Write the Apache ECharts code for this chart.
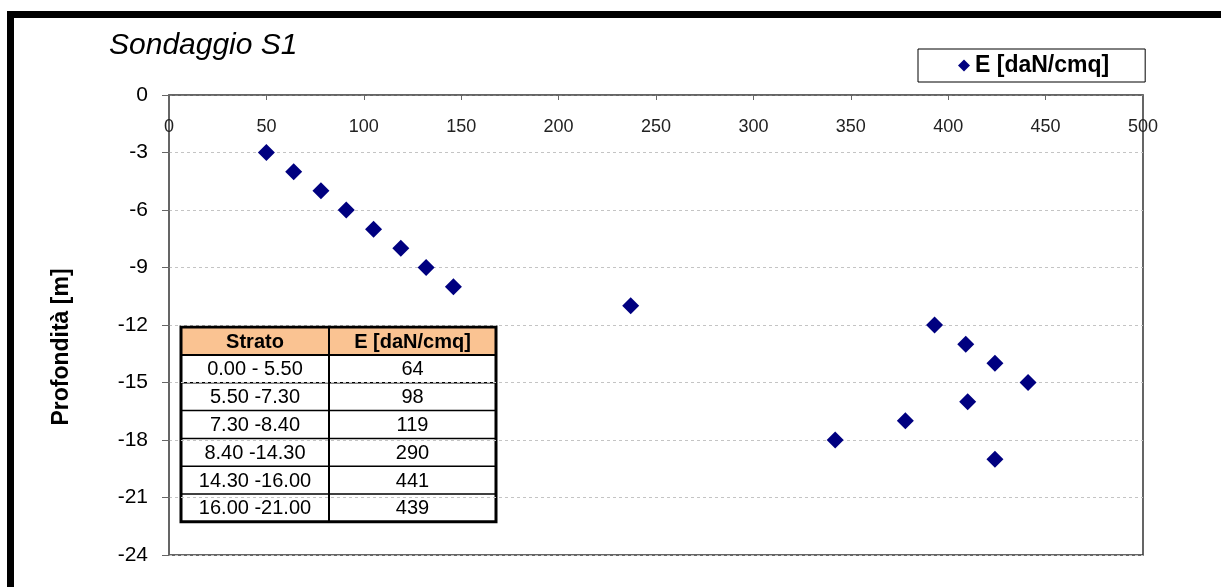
<!DOCTYPE html>
<html>
<head>
<meta charset="utf-8">
<script src="https://cdn.jsdelivr.net/npm/echarts@6/dist/echarts.min.js"></script>
<style>
html,body{margin:0;padding:0;background:#fff;}
#chart{width:1221px;height:587px;}
</style>
</head>
<body>
<div id="chart"></div>
<script>
// ---- data ----
const seriesName = 'E [daN/cmq]';
const depths = [-3, -4, -5, -6, -7, -8, -9, -10, -11, -12, -13, -14, -15, -16, -17, -18, -19];
const moduli = [50, 64, 78, 91, 105, 119, 132, 146, 237, 393, 409, 424, 441, 410, 378, 342, 424];
const xTicks = [0, 50, 100, 150, 200, 250, 300, 350, 400, 450, 500];
const yTicks = [0, -3, -6, -9, -12, -15, -18, -21, -24];
const tableHeader = ['Strato', 'E [daN/cmq]'];
const strati = ['0.00 - 5.50', '5.50 -7.30', '7.30 -8.40', '8.40 -14.30', '14.30 -16.00', '16.00 -21.00'];
const eStrato = [64, 98, 119, 290, 441, 439];

const font = '"Liberation Sans", Arial, sans-serif';
const chart = echarts.init(document.getElementById('chart'), null, {renderer: 'canvas'});

// table graphic built from arrays
const tX = 181, tY = 327, c1 = 148, c2 = 167, hH = 28, rH = 27.8;
const tableEls = [];
tableEls.push({type: 'rect', shape: {x: tX, y: tY, width: c1 + c2, height: hH}, style: {fill: '#FAC392'}});
tableEls.push({type: 'rect', shape: {x: tX, y: tY + hH, width: c1 + c2, height: rH * strati.length}, style: {fill: '#fff'}});
tableHeader.forEach((h, i) => {
  tableEls.push({type: 'text', style: {text: h, x: tX + (i === 0 ? c1 / 2 : c1 + c2 / 2), y: tY + hH / 2 + 1, align: 'center', verticalAlign: 'middle', font: 'bold 20px ' + font, fill: '#000'}});
});
strati.forEach((s, r) => {
  const cy = tY + hH + rH * r + rH / 2 + 1;
  tableEls.push({type: 'text', style: {text: s, x: tX + c1 / 2, y: cy, align: 'center', verticalAlign: 'middle', font: '20px ' + font, fill: '#000'}});
  tableEls.push({type: 'text', style: {text: String(eStrato[r]), x: tX + c1 + c2 / 2, y: cy, align: 'center', verticalAlign: 'middle', font: '20px ' + font, fill: '#000'}});
  if (r > 0) {
    tableEls.push({type: 'line', shape: {x1: tX, y1: tY + hH + rH * r, x2: tX + c1 + c2, y2: tY + hH + rH * r}, style: {stroke: '#000', lineWidth: 1.5}});
  }
});
tableEls.push({type: 'line', shape: {x1: tX, y1: tY + hH, x2: tX + c1 + c2, y2: tY + hH}, style: {stroke: '#000', lineWidth: 2}});
tableEls.push({type: 'line', shape: {x1: tX + c1, y1: tY, x2: tX + c1, y2: tY + hH + rH * strati.length}, style: {stroke: '#000', lineWidth: 2}});
tableEls.push({type: 'rect', shape: {x: tX, y: tY, width: c1 + c2, height: hH + rH * strati.length}, style: {fill: 'none', stroke: '#000', lineWidth: 3}});

const option = {
  animation: false,
  backgroundColor: '#fff',
  title: {
    text: 'Sondaggio S1',
    left: 104, top: 26,
    textStyle: {fontFamily: font, fontStyle: 'italic', fontWeight: 'normal', fontSize: 30, color: '#000'}
  },
  legend: {
    data: [{name: seriesName, icon: 'diamond'}],
    left: 918, top: 49,
    padding: [5, 36, 5, 40],
    itemWidth: 12, itemHeight: 12, itemGap: 5,
    borderColor: '#000', borderWidth: 1,
    textStyle: {fontFamily: font, fontWeight: 'bold', fontSize: 23, color: '#000'}
  },
  grid: {
    left: 169, top: 95, right: 78, bottom: 32,
    show: true, borderColor: '#333', borderWidth: 1.5, backgroundColor: '#fff'
  },
  xAxis: {
    type: 'value', position: 'top', min: 0, max: 500, interval: 50,
    axisLine: {show: true, onZero: false, lineStyle: {color: '#666', width: 1.5}},
    axisTick: {show: true, inside: true, length: 5, lineStyle: {color: '#666'}},
    axisLabel: {inside: true, margin: 23, fontFamily: font, fontSize: 18, color: '#222', showMinLabel: true, showMaxLabel: true,
      formatter: v => xTicks.includes(v) ? String(v) : ''},
    splitLine: {show: false}
  },
  yAxis: {
    type: 'value', min: -24, max: 0, interval: 3,
    name: 'Profondità [m]', nameLocation: 'middle', nameGap: 96, nameRotate: 90,
    nameTextStyle: {fontFamily: font, fontWeight: 'bold', fontSize: 23, color: '#000', padding: [0, 44, 0, 0]},
    axisLine: {show: true, onZero: false, lineStyle: {color: '#666', width: 1.5}},
    axisTick: {show: true, length: 7, lineStyle: {color: '#666'}},
    axisLabel: {margin: 21, fontFamily: font, fontSize: 21, color: '#000', showMinLabel: true, showMaxLabel: true,
      formatter: v => yTicks.includes(v) ? String(v) : ''},
    splitLine: {show: true, lineStyle: {color: '#C4C4C4', type: [3, 3], width: 1}}
  },
  series: [{
    name: seriesName, type: 'scatter', symbol: 'diamond', symbolSize: 17,
    itemStyle: {color: '#000080', opacity: 1},
    data: moduli.map((m, i) => [m, depths[i]])
  }],
  graphic: [
    {type: 'rect', z: 100, shape: {x: 7, y: 11, width: 1214, height: 7}, style: {fill: '#000'}},
    {type: 'rect', z: 100, shape: {x: 7, y: 11, width: 7, height: 576}, style: {fill: '#000'}},
    {type: 'group', z: 100, children: tableEls}
  ]
};
chart.setOption(option);
</script>
</body>
</html>
